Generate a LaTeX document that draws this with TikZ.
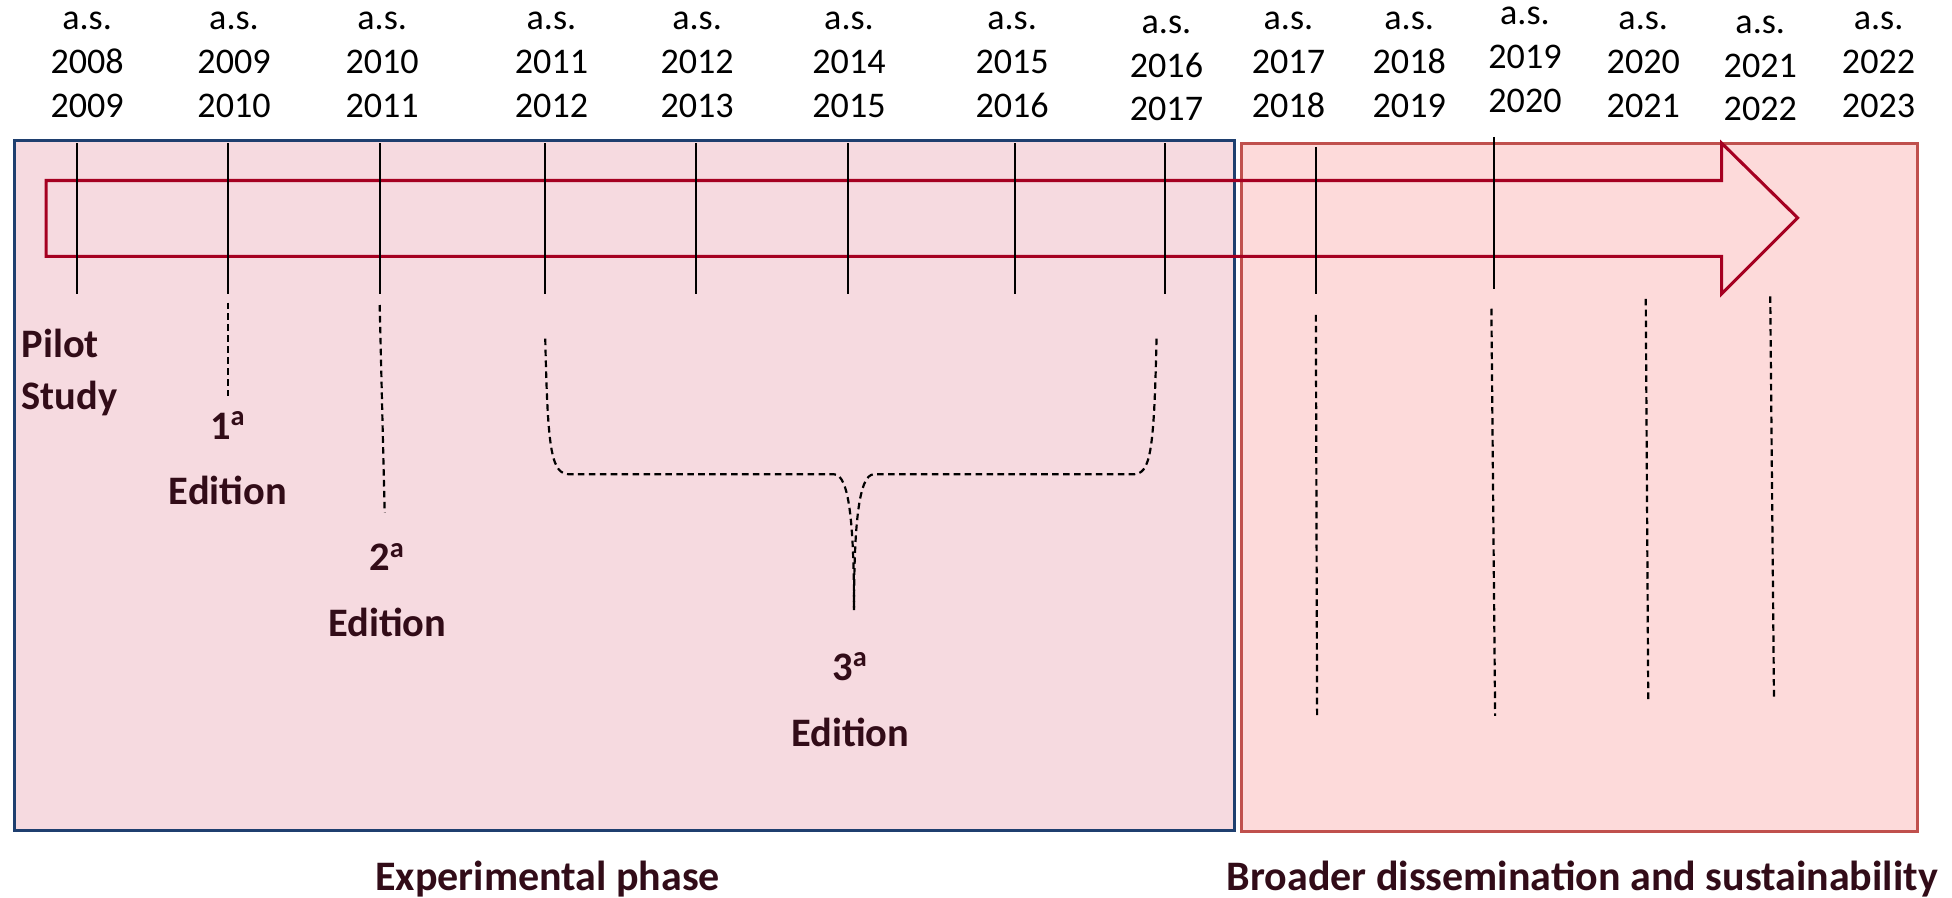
\documentclass[tikz,border=0pt]{standalone}
\usepackage{fontspec}
\setmainfont{Carlito}
\definecolor{expfill}{RGB}{246,218,224}
\definecolor{expline}{RGB}{31,63,111}
\definecolor{disfill}{RGB}{253,218,218}
\definecolor{disline}{RGB}{192,80,77}
\definecolor{arrowred}{RGB}{165,0,33}
\definecolor{labtext}{RGB}{50,12,24}
\tikzset{
  yearlab/.style={align=center,inner sep=0pt,font=\fontsize{16.5}{20}\selectfont},
  phaselab/.style={align=center,inner sep=0pt,text=labtext,font=\bfseries\fontsize{18.5}{30}\selectfont},
  ticklin/.style={line width=0.9pt},
  guide/.style={line width=1pt,dash pattern=on 3pt off 2pt}
}
\begin{document}
\begin{tikzpicture}[x=0.02cm,y=-0.02cm]
\useasboundingbox (0,0) rectangle (1568,721);
% the two phases
\draw[fill=expfill,draw=expline,line width=1.4pt](12,113) rectangle (992,667);
\draw[fill=disfill,draw=disline,line width=1.4pt](997,115) rectangle (1540,668);
% timeline arrow
\draw[arrowred,line width=1.4pt,line join=miter](37,145)--(1383,145)--(1383,115)--(1444,175)--(1383,236)--(1383,206)--(37,206)--cycle;
% school years
\foreach \x/\a/\b/\y [count=\i] in {70/2008/2009/52,188/2009/2010/52,307/2010/2011/52,443/2011/2012/52,560/2012/2013/52,682/2014/2015/52,813/2015/2016/52,937/2016/2017/55,1035/2017/2018/52,1132/2018/2019/52,1225/2019/2020/48,1320/2020/2021/52,1414/2021/2022/55,1509/2022/2023/52}{\node[yearlab](as\i) at (\x,\y){a.s.\\\a\\\b};}
\foreach \x/\ya/\yb in {62/115/236,183/115/236,305/115/236,438/115/236,559/115/236,681/115/236,815/115/236,936/115/236,1057/118/236,1200/110/232}{\draw[ticklin](\x,\ya)--(\x,\yb);}
% dashed guides
\foreach \xa/\ya/\xb/\yb in {183/243/183/318,305/245/309/412,1057/253/1058/578,1198/248/1201/575,1322/240/1324/563,1422/238/1425/562}{\draw[guide](\xa,\ya)--(\xb,\yb);}
\draw[guide](438,272) .. controls (440,365) and (443,381) .. (458,381)--(670,381) .. controls (682,381) and (686,420) .. (686,490);
\draw[guide](929,272) .. controls (927,365) and (924,381) .. (910,381)--(702,381) .. controls (690,381) and (686,420) .. (686,490);
% labels
\node[phaselab,align=left,anchor=west,font=\bfseries\fontsize{18.5}{24}\selectfont](pilot) at (17,299){Pilot\\Study};
\node[phaselab](ed1) at (183,368){1\textsuperscript{a}\\Edition};
\node[phaselab](ed2) at (311,474){2\textsuperscript{a}\\Edition};
\node[phaselab](ed3) at (683,562){3\textsuperscript{a}\\Edition};
\node[phaselab,font=\bfseries\fontsize{19.2}{24}\selectfont](expph) at (440,706){Experimental phase};
\node[phaselab,font=\bfseries\fontsize{19.2}{24}\selectfont](disph) at (1271,706){Broader dissemination and sustainability};
\end{tikzpicture}
\end{document}
